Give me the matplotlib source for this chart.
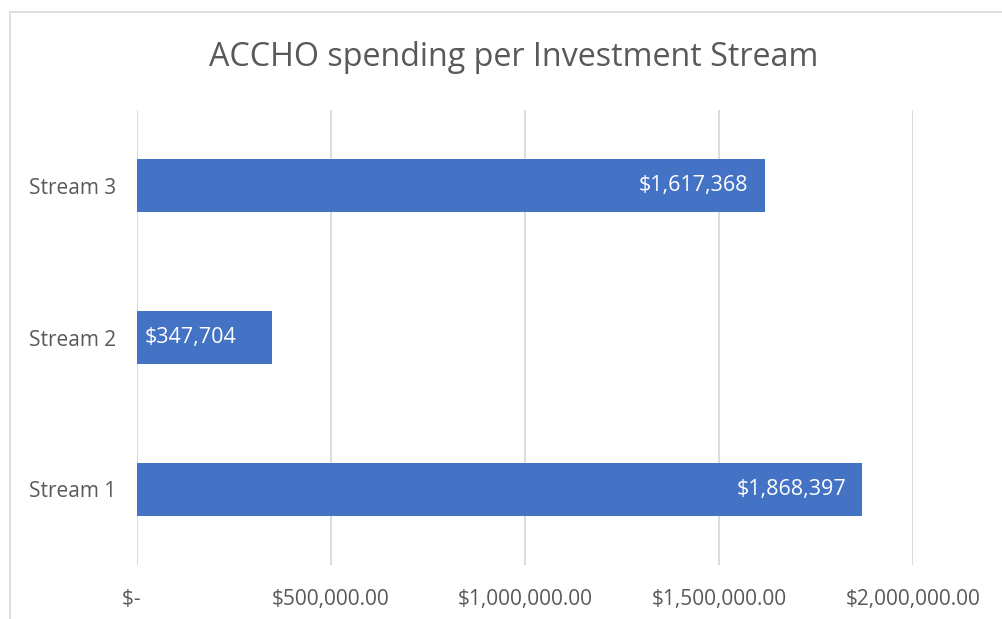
import matplotlib.pyplot as plt
from matplotlib.patches import Rectangle
from matplotlib.ticker import FuncFormatter

categories = ["Stream 1", "Stream 2", "Stream 3"]
spending = [1868397, 347704, 1617368]
x_ticks = [0, 500000, 1000000, 1500000, 2000000]

bar_color = "#4472C4"
text_color = "#595959"
grid_color = "#D9D9D9"

plt.rcParams['font.family'] = ['Open Sans', 'DejaVu Sans']

fig = plt.figure(figsize=(10.03, 6.19), dpi=100)
# chart frame (light border, cut off at right and bottom)
fig.patches.append(Rectangle((10 / 1003, -0.05), 1.2, 1 - 12 / 619 + 0.05,
                             transform=fig.transFigure, fill=False,
                             edgecolor=grid_color, linewidth=1.2))

ax = fig.add_axes([137 / 1003, 54 / 619, 776 / 1003, 455 / 619])
ax.barh(categories, spending, height=0.35, color=bar_color, zorder=3)

ax.set_xlim(0, 2000000)
ax.set_ylim(-0.5, 2.5)
ax.set_xticks(x_ticks)


def money(v, pos=None):
    if v == 0:
        return "$-  "
    return "${:,.2f}".format(v)


ax.xaxis.set_major_formatter(FuncFormatter(money))
ax.tick_params(axis='x', length=0, pad=17, labelsize=15, labelcolor=text_color)
ax.tick_params(axis='y', length=0, pad=15, labelsize=15, labelcolor=text_color)
ax.grid(axis='x', color=grid_color, linewidth=1.3, zorder=0)
for s in ax.spines.values():
    s.set_visible(False)

# data labels inside end
for i, v in enumerate(spending):
    label = "${:,}".format(v)
    if v < 500000:
        ax.annotate(label, (0, i), xytext=(8, 0), textcoords='offset pixels',
                    ha='left', va='center', color='white', fontsize=15.5, zorder=4)
    else:
        ax.annotate(label, (v, i), xytext=(-16, 0), textcoords='offset pixels',
                    ha='right', va='center', color='white', fontsize=15.5, zorder=4)

fig.text(514 / 1003, 1 - 58 / 619, "ACCHO spending per Investment Stream",
         ha='center', va='center', fontsize=23.2, color=text_color)

fig.savefig("out.png", dpi=100)
